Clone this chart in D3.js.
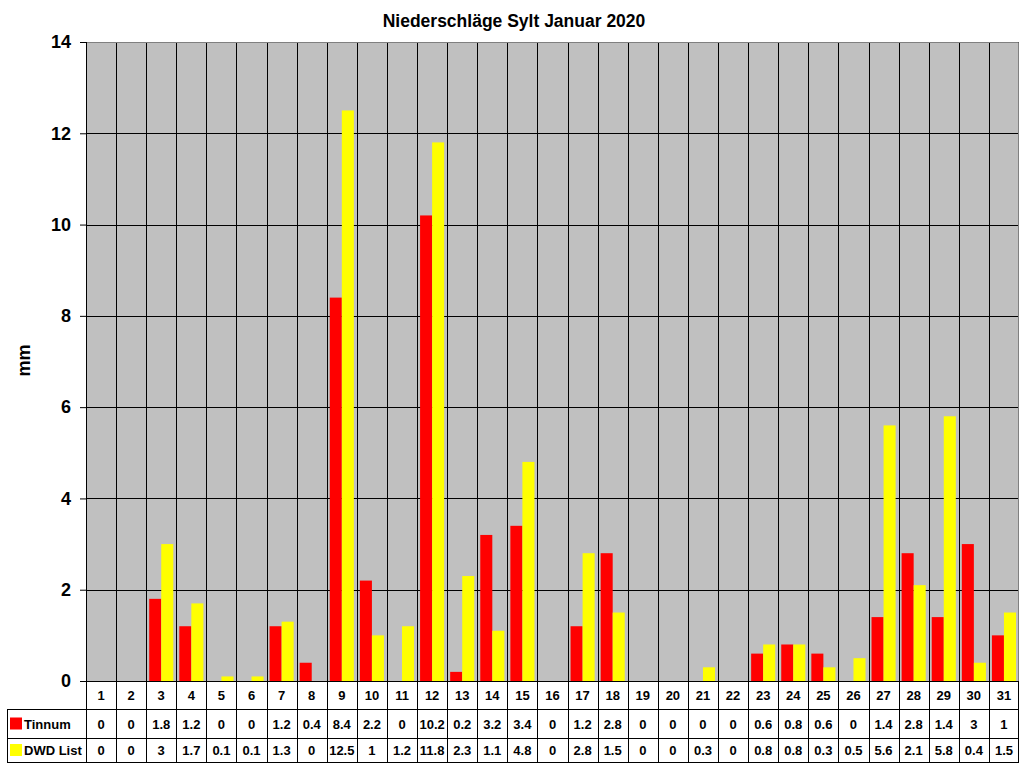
<!DOCTYPE html>
<html>
<head>
<meta charset="utf-8">
<script src="https://cdn.jsdelivr.net/npm/d3@7"></script>
<style>
  body { margin: 0; background: #fff; }
  svg text { font-family: Arial, "Liberation Sans", sans-serif; font-weight: bold; fill: #000; }
</style>
</head>
<body>
<svg id="chart" width="1024" height="768"></svg>
<script>
// data
var days = d3.range(1, 32).map(String);
var seriesNames = ["Tinnum", "DWD List"];
var tinnum = [0, 0, 1.8, 1.2, 0, 0, 1.2, 0.4, 8.4, 2.2, 0, 10.2, 0.2, 3.2, 3.4, 0, 1.2, 2.8, 0, 0, 0, 0, 0.6, 0.8, 0.6, 0, 1.4, 2.8, 1.4, 3, 1];
var dwdList = [0, 0, 3, 1.7, 0.1, 0.1, 1.3, 0, 12.5, 1, 1.2, 11.8, 2.3, 1.1, 4.8, 0, 2.8, 1.5, 0, 0, 0.3, 0, 0.8, 0.8, 0.3, 0.5, 5.6, 2.1, 5.8, 0.4, 1.5];
var yTicks = [0, 2, 4, 6, 8, 10, 12, 14];
var colors = ["#ff0000", "#ffff00"];
var allSeries = [tinnum, dwdList];

// layout
var margin = { top: 42, right: 5, bottom: 87, left: 86 },
    width = 1024 - margin.left - margin.right,
    height = 768 - margin.top - margin.bottom;
var tableLeft = 7, rowH = [28, 29, 24];

var svg = d3.select("#chart");
var g = svg.append("g").attr("transform", "translate(" + margin.left + "," + margin.top + ")");

var xScale = d3.scaleBand().domain(days).range([0, width]).padding(0);
var xSub = d3.scaleBand().domain(seriesNames).range([xScale.bandwidth() * 0.1, xScale.bandwidth() * 0.9]);
var yScale = d3.scaleLinear().domain([0, 14]).range([height, 0]);

// plot background
g.append("rect").attr("width", width).attr("height", height).attr("fill", "#c0c0c0");

// horizontal grid
g.selectAll(".hgrid").data(yTicks.slice(1)).enter().append("line")
  .attr("x1", 0).attr("x2", width)
  .attr("y1", function(d){ return Math.round(yScale(d)) + 0.5; })
  .attr("y2", function(d){ return Math.round(yScale(d)) + 0.5; })
  .attr("stroke", "#000").attr("stroke-width", 1);

// vertical grid between days
g.selectAll(".vgrid").data(days.slice(1)).enter().append("line")
  .attr("x1", function(d){ return Math.round(xScale(d)) + 0.5; })
  .attr("x2", function(d){ return Math.round(xScale(d)) + 0.5; })
  .attr("y1", 0).attr("y2", height)
  .attr("stroke", "#000").attr("stroke-width", 1);

// bars
allSeries.forEach(function(vals, si){
  g.selectAll(".bar" + si).data(vals).enter().append("rect")
    .attr("x", function(d, i){ return xScale(days[i]) + xSub(seriesNames[si]); })
    .attr("width", xSub.bandwidth())
    .attr("y", function(d){ return yScale(d); })
    .attr("height", function(d){ return height - yScale(d); })
    .attr("fill", colors[si]);
});

// border top/right gray
g.append("path").attr("d", "M0,0.5H" + (width - 0.5) + "V" + height)
  .attr("fill", "none").attr("stroke", "#808080");

// y axis
var yAxis = d3.axisLeft(yScale).tickValues(yTicks).tickSize(6).tickPadding(9).tickFormat(d3.format("d"));
var ya = g.append("g").call(yAxis);
ya.select(".domain").remove();
ya.selectAll(".tick line").attr("stroke", "#000");
ya.selectAll(".tick text").style("font-size", "18px").style("font-family", "Arial, 'Liberation Sans', sans-serif").style("font-weight", "bold").attr("fill", "#000");
g.append("line").attr("x1", 0.5).attr("x2", 0.5).attr("y1", 0).attr("y2", height).attr("stroke", "#000");
g.append("line").attr("x1", -6).attr("x2", width).attr("y1", height + 0.5).attr("y2", height + 0.5).attr("stroke", "#000");

// y label
svg.append("text").attr("transform", "translate(30," + (margin.top + height / 2 - 1) + ") rotate(-90)")
  .attr("text-anchor", "middle").style("font-size", "18px").text("mm");

// title
svg.append("text").attr("x", 514).attr("y", 27).attr("text-anchor", "middle")
  .style("font-size", "17.5px").text("Niederschläge Sylt Januar 2020");

// data table
var t = svg.append("g").attr("transform", "translate(" + margin.left + "," + (margin.top + height) + ")");
var y1 = rowH[0], y2 = rowH[0] + rowH[1], y3 = rowH[0] + rowH[1] + rowH[2];
[y1, y2, y3].forEach(function(yy){
  t.append("line").attr("x1", tableLeft - margin.left).attr("x2", width)
    .attr("y1", yy + 0.5).attr("y2", yy + 0.5).attr("stroke", "#000");
});
t.append("line").attr("x1", tableLeft - margin.left + 0.5).attr("x2", tableLeft - margin.left + 0.5)
  .attr("y1", y1).attr("y2", y3).attr("stroke", "#000");
t.selectAll(".tv").data(days.concat(["end"])).enter().append("line")
  .attr("x1", function(d, i){ return Math.round(i * xScale.step()) + 0.5 - (i === days.length ? 1 : 0); })
  .attr("x2", function(d, i){ return Math.round(i * xScale.step()) + 0.5 - (i === days.length ? 1 : 0); })
  .attr("y1", 0).attr("y2", y3).attr("stroke", "#000");

t.selectAll(".dayLbl").data(days).enter().append("text")
  .attr("x", function(d){ return xScale(d) + xScale.bandwidth() / 2; })
  .attr("y", y1 / 2 + 5).attr("text-anchor", "middle").style("font-size", "13px")
  .text(function(d){ return d; });

var rowMid = [(y1 + y2) / 2, (y2 + y3) / 2];
allSeries.forEach(function(vals, si){
  t.selectAll(".val" + si).data(vals).enter().append("text")
    .attr("x", function(d, i){ return xScale(days[i]) + xScale.bandwidth() / 2; })
    .attr("y", rowMid[si] + 5).attr("text-anchor", "middle").style("font-size", "13px")
    .text(function(d){ return d; });
  t.append("rect").attr("x", tableLeft - margin.left + 3).attr("y", rowMid[si] - 6)
    .attr("width", 12).attr("height", 12).attr("fill", colors[si]);
  t.append("text").attr("x", tableLeft - margin.left + 17).attr("y", rowMid[si] + 5)
    .style("font-size", "13px").text(seriesNames[si]);
});
</script>
</body>
</html>
